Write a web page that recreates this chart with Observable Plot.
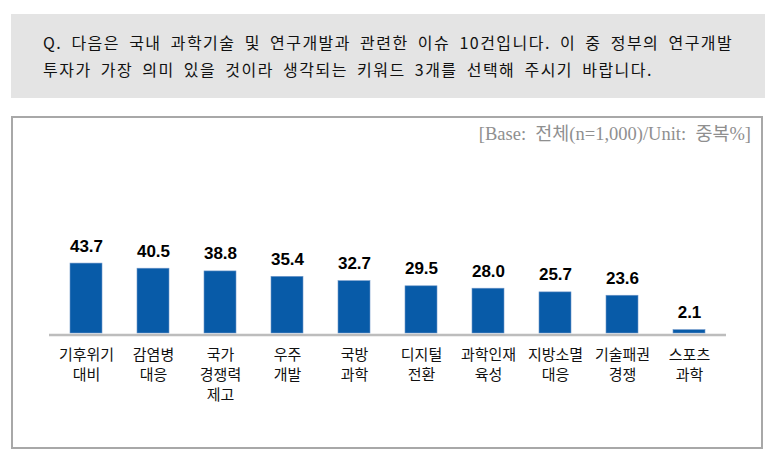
<!DOCTYPE html>
<html>
<head>
<meta charset="utf-8">
<script src="https://cdn.jsdelivr.net/npm/d3@7"></script>
<script src="https://cdn.jsdelivr.net/npm/@observablehq/plot@0.6"></script>
<style>
  html, body { margin: 0; padding: 0; background: #fff; width: 776px; height: 457px; overflow: hidden; }
  #q { position: absolute; left: 11px; top: 14px; width: 754px; height: 84px; background: #e4e4e4; }
  #q div { position: absolute; left: 32px; font-family: "Noto Sans CJK KR", sans-serif; font-size: 16px; color: #111; white-space: nowrap; letter-spacing: 1.5px; word-spacing: 4px; }
  #frame { position: absolute; left: 11px; top: 116px; width: 752px; height: 333px; border: 2px solid #a8a8a8; box-sizing: border-box; }
  #base { position: absolute; right: 25px; top: 119px; font-family: "Liberation Serif", "Noto Sans CJK KR", serif; font-size: 18.5px; color: #8f8f8f; white-space: nowrap; }
  #chart { position: absolute; left: 0; top: 117px; }
</style>
</head>
<body>
<div id="q">
  <div style="top:16px">Q. 다음은 국내 과학기술 및 연구개발과 관련한 이슈 10건입니다. 이 중 정부의 연구개발</div>
  <div style="top:43px">투자가 가장 의미 있을 것이라 생각되는 키워드 3개를 선택해 주시기 바랍니다.</div>
</div>
<div id="frame"></div>
<div id="base">[Base:&nbsp;&nbsp;전체(n=1,000)/Unit:&nbsp;&nbsp;중복%]</div>
<div id="chart"></div>
<script>
const categories = ["기후위기\n대비", "감염병\n대응", "국가\n경쟁력\n제고", "우주\n개발", "국방\n과학", "디지털\n전환", "과학인재\n육성", "지방소멸\n대응", "기술패권\n경쟁", "스포츠\n과학"];
const values = [43.7, 40.5, 38.8, 35.4, 32.7, 29.5, 28.0, 25.7, 23.6, 2.1];

const data = categories.map((c, i) => ({category: c, value: values[i]}));

const chart = Plot.plot({
  width: 776,
  height: 333,
  marginLeft: 49,
  marginRight: 50,
  marginTop: 16,
  marginBottom: 117,
  x: {domain: categories, paddingInner: 0.527, paddingOuter: 0.2635, axis: null},
  y: {domain: [0, 125], axis: null},
  style: {background: "transparent", overflow: "visible"},
  marks: [
    Plot.barY(data, {x: "category", y: "value", fill: "#085ba8", stroke: "#6f97c8", strokeWidth: 0.6}),
    Plot.ruleY([0], {stroke: "#bdbdbd", strokeWidth: 2.5, dy: 1.5}),
    Plot.text(data, {x: "category", y: "value", text: d => d.value.toFixed(1), lineAnchor: "bottom", dy: -12,
      fontFamily: "Liberation Sans, Arial, sans-serif", fontWeight: "bold", fontSize: 17, fill: "#000"}),
    Plot.text(data, {x: "category", y: 0, text: "category", lineAnchor: "top", dy: 12, lineHeight: 1.33,
      fontFamily: "Noto Sans CJK KR, sans-serif", fontSize: 15, fill: "#111"})
  ]
});
document.getElementById("chart").appendChild(chart);
</script>
</body>
</html>
